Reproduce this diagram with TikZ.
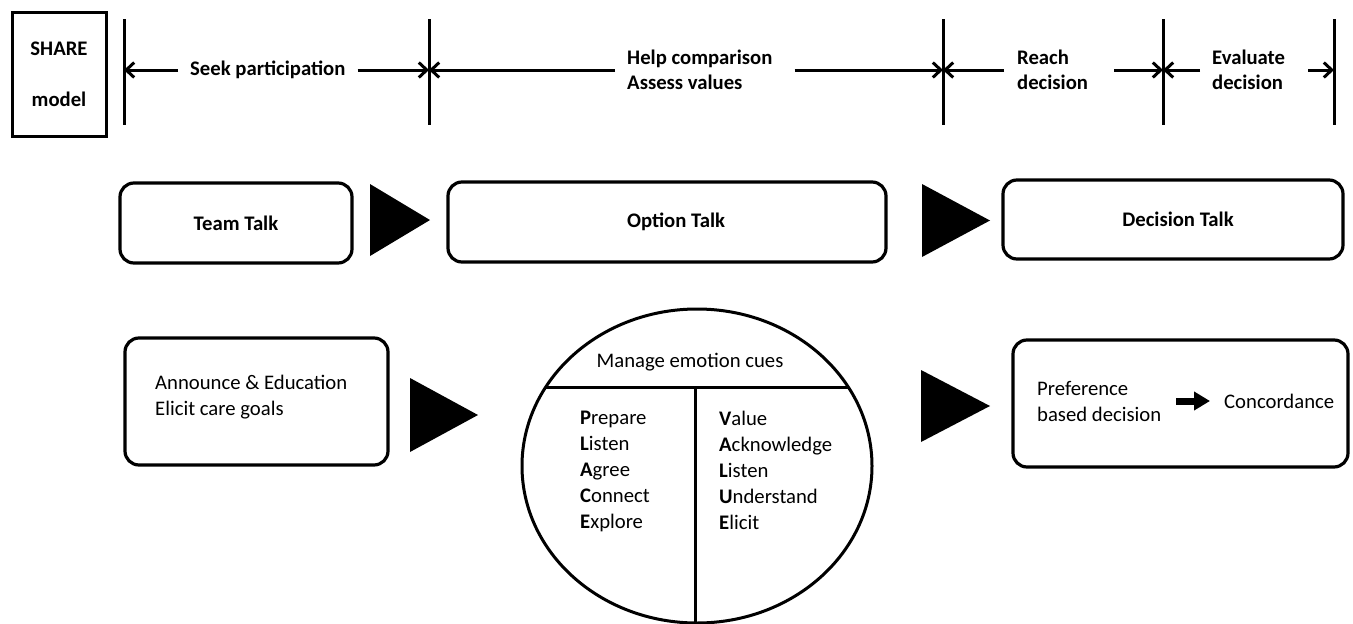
\documentclass[tikz,border=0pt]{standalone}
\usepackage{fontspec}
\setmainfont{Carlito}
\usetikzlibrary{arrows.meta,shapes.geometric}
\begin{document}
\begin{tikzpicture}[x=1pt,y=-1pt,
  txt/.style={font=\fontsize{20.7}{26}\selectfont, inner sep=0pt, align=left},
  btxt/.style={font=\fontsize{20.7}{25}\selectfont\bfseries, inner sep=0pt, align=left},
  tick/.style={line width=3pt},
  dimarr/.style={line width=3pt, -{Straight Barb[length=8pt,width=15pt]}},
  rbox/.style={draw, line width=3.2pt, rounded corners=14pt},
  tri/.style={fill=black},
  fat/.style={line width=7pt, -{Triangle[length=16pt,width=18pt]}}
]
\useasboundingbox (0,0) rectangle (1353,624);

% SHARE model box
\node[draw, line width=3pt, minimum width=94pt, minimum height=124pt,
      btxt, align=center] (share) at (59,74) {SHARE\\[26pt]model};

% ticks
\foreach \n/\x in {t1/124,t2/429,t3/943,t4/1163,t5/1334}{
  \coordinate (\n top) at (\x,19);
  \coordinate (\n bot) at (\x,125);
  \coordinate (\n) at (\x,70);
  \draw[tick] (\n top) -- (\n bot);
}

% top labels
\node[btxt, anchor=west] (seek) at (190,70) {Seek participation};
\node[btxt, anchor=west] (help) at (627,70) {Help comparison\\Assess values};
\node[btxt, anchor=west] (reach) at (1017,70) {Reach\\decision};
\node[btxt, anchor=west] (eval) at (1212,70) {Evaluate\\decision};

\draw[dimarr, shorten <=12pt] (seek.west) -- (t1);
\draw[dimarr, shorten <=12pt] (seek.east) -- (t2);
\draw[dimarr, shorten <=12pt] (help.west) -- (t2);
\draw[dimarr, shorten <=22pt] (help.east) -- (t3);
\draw[dimarr, shorten <=13pt] (reach.west) -- (t3);
\draw[dimarr, shorten <=26pt] (reach.east) -- (t4);
\draw[dimarr, shorten <=12pt] (eval.west) -- (t4);
\draw[dimarr, shorten <=23pt] (eval.east) -- (t5);

% row 2
\node[rbox, minimum width=232pt, minimum height=80pt, btxt] (team) at (236,223) {Team Talk};
\node[rbox, minimum width=438pt, minimum height=80pt, btxt] (option) at (667,222) {\kern18pt Option Talk};
\node[rbox, minimum width=340pt, minimum height=79pt, btxt] (dtalk) at (1173,219.5) {\kern10pt Decision Talk};
\fill[tri] (370,184) -- (430,220) -- (370,256) -- cycle;
\fill[tri] (922,184) -- (990,220.5) -- (922,257) -- cycle;

% row 3
\node[rbox, minimum width=263pt, minimum height=127pt] (announce) at (256.5,401.5) {};
\node[txt, anchor=west] (anntext) at (155,397) {Announce \& Education\\Elicit care goals};
\fill[tri] (410,378) -- (478,415) -- (410,452) -- cycle;

\node[draw, ellipse, line width=3pt, minimum width=350pt, minimum height=314pt, inner sep=0pt] (circ) at (697,466) {};
\begin{scope}
  \clip (697,466) ellipse [x radius=175, y radius=157];
  \draw[line width=3pt] (500,387) -- (900,387);
  \draw[line width=3pt] (695,387) -- (695,700);
\end{scope}
\node[txt] (manage) at (690,362) {Manage emotion cues};
\node[txt, anchor=north west] (plan) at (580,411) {\textbf{P}repare\\\textbf{L}isten\\\textbf{A}gree\\\textbf{C}onnect\\\textbf{E}xplore};
\node[txt, anchor=north west] (value) at (719,411) {\textbf{V}alue\\\textbf{A}cknowledge\\\textbf{L}isten\\\textbf{U}nderstand\\\textbf{E}licit};

\fill[tri] (921,370) -- (990,406) -- (921,442) -- cycle;

\node[rbox, minimum width=335pt, minimum height=127pt] (decbox) at (1180.5,403.5) {};
\node[txt, anchor=west] (pref) at (1037,401) {Preference\\based decision};
\node[txt, anchor=west] (conc) at (1224,401) {Concordance};
\draw[fat, shorten <=15pt, shorten >=14pt] (pref.east) -- (conc.west);
\end{tikzpicture}
\end{document}
